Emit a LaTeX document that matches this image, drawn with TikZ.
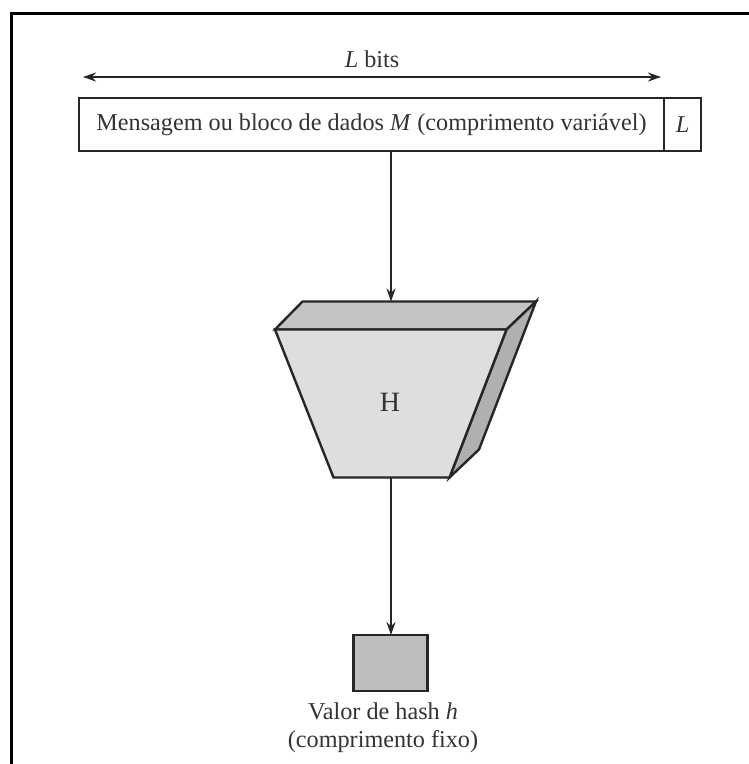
\documentclass[tikz,border=0pt]{standalone}
\usepackage{fontspec}
\setmainfont{Liberation Serif}
\usetikzlibrary{arrows.meta}
\definecolor{facefront}{HTML}{DEDEDE}
\definecolor{facetop}{HTML}{C4C4C4}
\definecolor{faceside}{HTML}{B0B0B0}
\definecolor{hashfill}{HTML}{BEBEBE}
\tikzset{
  boxline/.style={draw=black!85, line width=2.4pt},
  tip/.style={Stealth[length=13pt,width=9pt]},
  flow/.style={draw=black!85, line width=2pt, -{Stealth[length=13pt,width=9pt]}},
  txt/.style={font=\fontsize{24.2}{28}\selectfont, text=black!80},
}
\begin{document}
\begin{tikzpicture}[x=1pt, y=-1pt, line join=miter]
\useasboundingbox (0,0) rectangle (749,764);

% frame (top and left edges)
\draw[line width=2.6pt] (11.5,764) -- (11.5,13.5) -- (749,13.5);

% length arrow
\coordinate (la) at (83,77);
\coordinate (lb) at (661,77);
\draw[draw=black!85, line width=2pt, {Stealth[length=13pt,width=9pt]}-{Stealth[length=13pt,width=9pt]}] (la) -- (lb);
\node[txt, anchor=base] (lbits) at (372,67) {\textit{L} bits};

% message block and length field
\node[boxline, txt, minimum width=585pt, minimum height=53pt, inner sep=0pt, outer sep=0pt] (msg) at (371.5,124.5)
  {Mensagem ou bloco de dados \textit{M} (comprimento variável)};
\node[boxline, txt, minimum width=37pt, minimum height=53pt, inner sep=0pt, outer sep=0pt, anchor=west] (lfield) at (msg.east) {\textit{L}};

% hash function block
\coordinate (ftl) at (275,329.5);
\coordinate (ftr) at (506.5,329.5);
\coordinate (fbr) at (449.5,477.5);
\coordinate (fbl) at (333.5,477.5);
\coordinate (btl) at (302.5,301.5);
\coordinate (btr) at (536,301.5);
\coordinate (bbr) at (479,449.5);
\draw[boxline, fill=facetop] (ftl) -- (btl) -- (btr) -- (ftr) -- cycle;
\draw[boxline, fill=faceside] (ftr) -- (btr) -- (bbr) -- (fbr) -- cycle;
\draw[boxline, fill=facefront] (ftl) -- (ftr) -- (fbr) -- (fbl) -- cycle;
\node[font=\fontsize{28}{32}\selectfont, text=black!80] (H) at (390,402) {H};
\coordinate (hin) at (391,301.5);
\coordinate (hout) at (391,477.5);

% hash value
\node[boxline, fill=hashfill, minimum width=74pt, minimum height=56pt, inner sep=0pt, outer sep=0pt] (hash) at (390.5,663) {};
\node[txt, align=center, anchor=north, inner sep=0pt] (hlabel) at (383,702)
  {Valor de hash \textit{h}\\(comprimento fixo)};

% connectors
\draw[flow] (msg.south -| hin) -- (hin);
\draw[flow] (hout) -- (hash.north -| hout);
\end{tikzpicture}
\end{document}
